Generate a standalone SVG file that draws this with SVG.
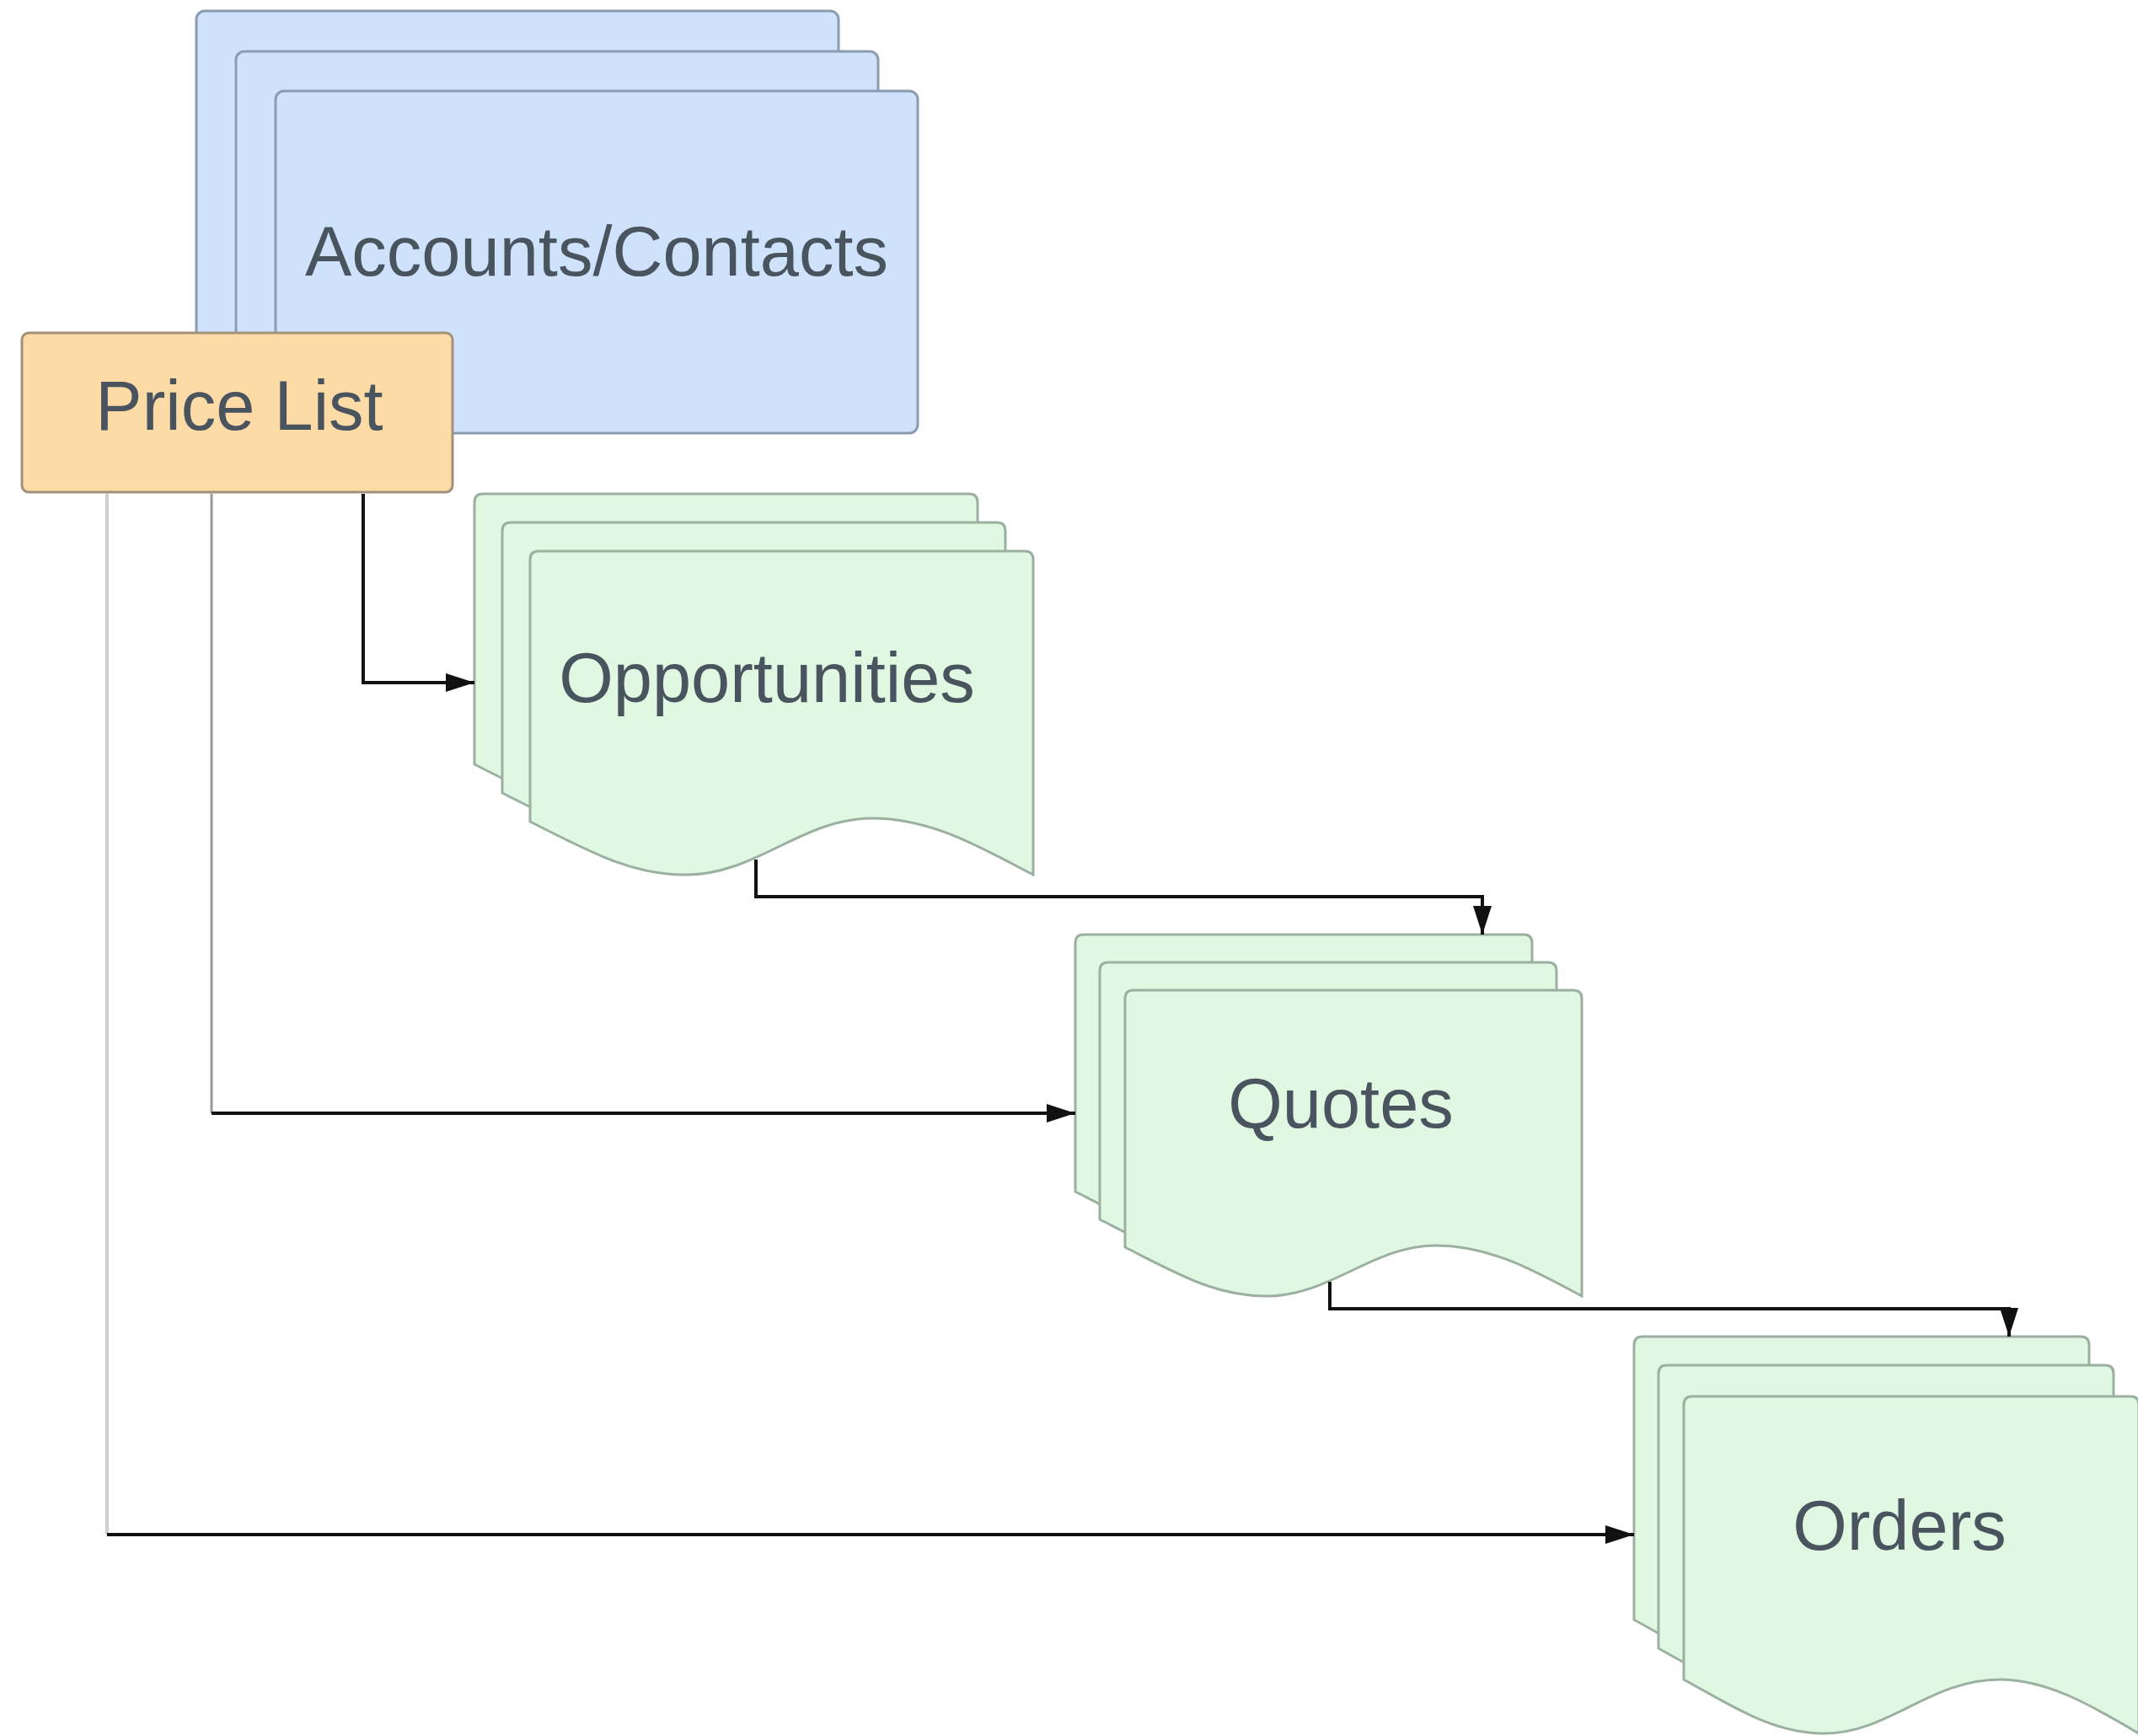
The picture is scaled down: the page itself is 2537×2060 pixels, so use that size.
<svg xmlns="http://www.w3.org/2000/svg" width="2537" height="2060" viewBox="0 0 2537 2060">
<style>
  .blue{fill:#cfe2fc;stroke:#8b9bb0;stroke-width:3}
  .orange{fill:#fddba6;stroke:#a3927a;stroke-width:3}
  .green{fill:#e0f8e2;stroke:#9bb0a0;stroke-width:3}
  .lbl{font-family:"Liberation Sans",Arial,sans-serif;font-size:83px;fill:#4a545e;text-anchor:middle}
  .conn{fill:none;stroke:#111;stroke-width:4}
  .grey{fill:none;stroke:#999;stroke-width:3}
  .lgrey{fill:none;stroke:#d0d0d0;stroke-width:4}
</style>
<defs>
  <marker id="arr" markerUnits="userSpaceOnUse" markerWidth="36" markerHeight="22" refX="34" refY="11" orient="auto">
    <path d="M0,0 L34,11 L0,22 Z" fill="#111"/>
  </marker>
  <path id="docOpp" d="M0,10 Q0,0 10,0 H587 Q597,0 597,10 V384 C537,353 478,317 406,317 C322,317 269,384 185,384 C119,384 72,357 0,321 Z"/>
  <path id="docQuo" d="M0,10 Q0,0 10,0 H532 Q542,0 542,10 V363 C488,334 434,303 369,303 C293,303 244,363 168,363 C108,363 65,338 0,305 Z"/>
  <path id="docOrd" d="M0,10 Q0,0 10,0 H530 Q540,0 540,10 V400 C486,368 432,336 375,336 C292,336 243,400 167,400 C108,400 65,372 0,336 Z"/>
</defs>
<rect width="2537" height="2060" fill="#ffffff"/>

<g id="accounts-contacts">
  <rect class="blue" x="233" y="13" width="762" height="406" rx="10"/>
  <rect class="blue" x="280" y="61" width="762" height="406" rx="10"/>
  <rect class="blue" x="327" y="108" width="762" height="406" rx="10"/>
  <text class="lbl" x="708" y="327">Accounts/Contacts</text>
</g>

<g id="price-list">
  <rect class="orange" x="26" y="395" width="511" height="189" rx="8"/>
  <text class="lbl" x="284" y="510">Price List</text>
</g>

<g id="opportunities">
  <use href="#docOpp" class="green" x="563" y="586"/>
  <use href="#docOpp" class="green" x="596" y="620"/>
  <use href="#docOpp" class="green" x="629" y="654"/>
  <text class="lbl" x="910" y="833">Opportunities</text>
</g>

<g id="quotes">
  <use href="#docQuo" class="green" x="1276" y="1109"/>
  <use href="#docQuo" class="green" x="1305" y="1142"/>
  <use href="#docQuo" class="green" x="1335" y="1175"/>
  <text class="lbl" x="1591" y="1338">Quotes</text>
</g>

<g id="orders">
  <use href="#docOrd" class="green" x="1939" y="1586"/>
  <use href="#docOrd" class="green" x="1968" y="1620"/>
  <use href="#docOrd" class="green" x="1998" y="1657"/>
  <text class="lbl" x="2254" y="1839">Orders</text>
</g>

<g id="connectors">
  <path class="conn" d="M431,586 V810 H563" marker-end="url(#arr)"/>
  <path class="grey" d="M251,586 V1321"/>
  <path class="conn" d="M251,1321 H1276" stroke-width="3" marker-end="url(#arr)"/>
  <path class="lgrey" d="M127,586 V1821"/>
  <path class="conn" d="M127,1821 H1939" marker-end="url(#arr)"/>
  <path class="conn" d="M897,1020 V1064 H1759 V1109" marker-end="url(#arr)"/>
  <path class="conn" d="M1578,1521 V1553 H2384 V1586" marker-end="url(#arr)"/>
</g>
</svg>
